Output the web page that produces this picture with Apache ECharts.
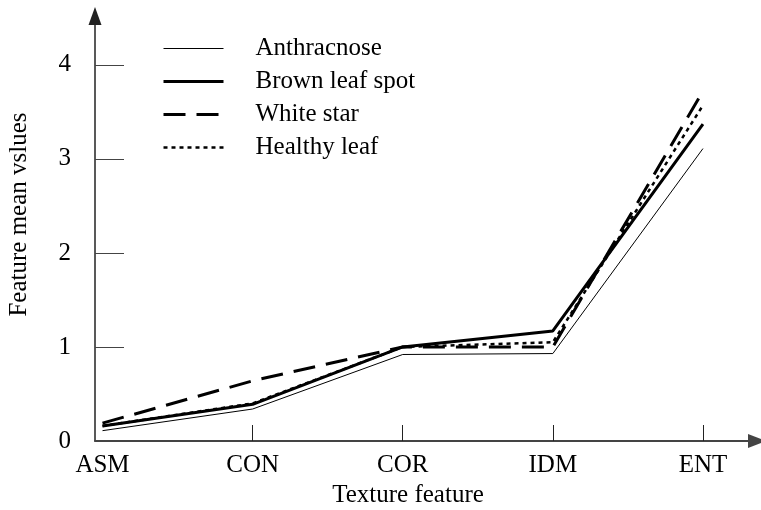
<!DOCTYPE html>
<html>
<head>
<meta charset="utf-8">
<script src="https://cdn.jsdelivr.net/npm/echarts@6/dist/echarts.min.js"></script>
<style>
  html, body { margin: 0; padding: 0; background: #fff; }
  #chart { width: 761px; height: 510px; }
</style>
</head>
<body>
<div id="chart"></div>
<script>
const categories = ['ASM', 'CON', 'COR', 'IDM', 'ENT']
const anthracnose = [0.11, 0.34, 0.92, 0.93, 3.11]
const brownLeafSpot = [0.16, 0.39, 1.0, 1.17, 3.37]
const whiteStar = [0.19, 0.64, 1.0, 1.0, 3.72]
const healthyLeaf = [0.16, 0.4, 1.0, 1.05, 3.57]
const yTickLabels = [0, 1, 2, 3, 4]
const yTickMarks = [1, 2, 3, 4]
const xTickMarks = [1, 2, 3, 4]

const font = '"Liberation Serif", "DejaVu Serif", serif'

function toPoints(values) {
  return values.map((v, i) => [i, v])
}

function lineSeries(name, values, width, type) {
  return {
    name,
    type: 'line',
    symbol: 'none',
    silent: true,
    lineStyle: { color: '#000', width, type },
    itemStyle: { color: '#000' },
    data: toPoints(values)
  }
}

const chart = echarts.init(document.getElementById('chart'))

chart.setOption({
  animation: false,
  backgroundColor: '#fff',
  textStyle: { fontFamily: font, color: '#000' },
  grid: { left: 95, right: 4, top: 16, bottom: 69, outerBoundsMode: 'none' },
  legend: {
    orient: 'vertical',
    left: 162,
    top: 36,
    padding: 0,
    itemWidth: 60,
    itemHeight: 20,
    itemGap: 8,
    itemStyle: { color: 'transparent', opacity: 0, borderWidth: 0 },
    lineStyle: { width: 'inherit' },
    textStyle: { fontFamily: font, fontSize: 25, color: '#000', padding: [0, 0, 0, 27] },
    data: ['Anthracnose', 'Brown leaf spot', 'White star', 'Healthy leaf']
  },
  xAxis: {
    type: 'value',
    min: -0.05,
    max: 4.36,
    name: 'Texture feature',
    nameLocation: 'middle',
    nameGap: 42,
    nameTextStyle: { fontFamily: font, fontSize: 25, color: '#000', padding: [0, 36, 0, 0] },
    splitLine: { show: false },
    axisLine: {
      lineStyle: { color: '#444', width: 2 },
      symbol: ['none', 'triangle'],
      symbolSize: [14, 18]
    },
    axisTick: {
      inside: true,
      length: 16,
      customValues: xTickMarks,
      lineStyle: { color: '#222', width: 1 }
    },
    axisLabel: {
      margin: 12,
      fontFamily: font,
      fontSize: 25,
      color: '#000',
      customValues: categories.map((c, i) => i),
      formatter: (v) => categories[Math.round(v)]
    }
  },
  yAxis: {
    type: 'value',
    min: 0,
    max: 4.52,
    name: 'Feature mean vslues',
    nameLocation: 'middle',
    nameGap: 63,
    nameRotate: 90,
    nameTextStyle: { fontFamily: font, fontSize: 25, color: '#000', padding: [0, 0, 0, 28] },
    splitLine: { show: false },
    axisLine: {
      onZero: false,
      lineStyle: { color: '#222', width: 1.5 },
      symbol: ['none', 'triangle'],
      symbolSize: [13, 18]
    },
    axisTick: {
      inside: true,
      length: 29,
      customValues: yTickMarks,
      lineStyle: { color: '#444', width: 1 }
    },
    axisLabel: {
      margin: 24,
      fontFamily: font,
      fontSize: 25,
      color: '#000',
      customValues: yTickLabels
    }
  },
  series: [
    lineSeries('Anthracnose', anthracnose, 1, 'solid'),
    lineSeries('Brown leaf spot', brownLeafSpot, 3, 'solid'),
    lineSeries('White star', whiteStar, 3, [22, 11]),
    lineSeries('Healthy leaf', healthyLeaf, 2.5, [4, 4])
  ]
})
</script>
</body>
</html>
